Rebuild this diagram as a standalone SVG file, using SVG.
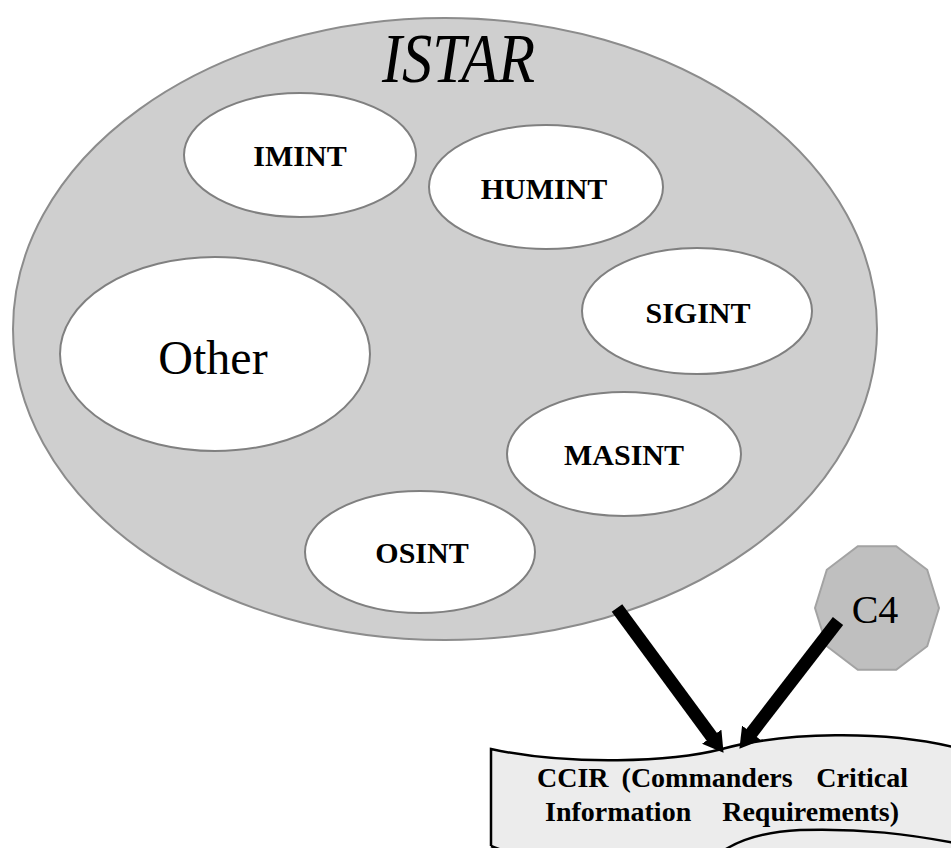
<svg xmlns="http://www.w3.org/2000/svg" width="951" height="848" viewBox="0 0 951 848">
  <defs>
    <style>
      .serif { font-family: "Liberation Serif", "Times New Roman", serif; fill: #000; }
      .disc { fill: #fff; stroke: #808080; stroke-width: 2; }
      .lbl { font-size: 30px; font-weight: bold; text-anchor: middle; }
      .ccir { font-size: 28px; font-weight: bold; }
      .link { stroke: #000; stroke-width: 13; fill: none; stroke-linecap: butt; }
    </style>
    <marker id="head" markerUnits="userSpaceOnUse" viewBox="0 0 20 24" markerWidth="20" markerHeight="24" refX="1" refY="12" orient="auto">
      <path d="M0,0 L20,12 L0,24 Z" fill="#000"/>
    </marker>
  </defs>

  <!-- ISTAR container -->
  <g id="istar">
    <ellipse cx="445" cy="329" rx="432" ry="311" fill="#cfcfcf" stroke="#8c8c8c" stroke-width="2"/>
    <text class="serif" x="382" y="82" font-size="70" font-style="italic" textLength="153" lengthAdjust="spacingAndGlyphs">ISTAR</text>
  </g>

  <g id="imint">
    <ellipse class="disc" cx="300" cy="155" rx="116" ry="62"/>
    <text class="serif lbl" x="300" y="166">IMINT</text>
  </g>

  <g id="humint">
    <ellipse class="disc" cx="546" cy="187" rx="117" ry="62"/>
    <text class="serif lbl" x="544" y="199">HUMINT</text>
  </g>

  <g id="sigint">
    <ellipse class="disc" cx="697" cy="311" rx="115" ry="63"/>
    <text class="serif lbl" x="698" y="323">SIGINT</text>
  </g>

  <g id="other">
    <ellipse class="disc" cx="215" cy="354" rx="155" ry="97"/>
    <text class="serif" x="213" y="374" font-size="48" text-anchor="middle">Other</text>
  </g>

  <g id="masint">
    <ellipse class="disc" cx="624" cy="454" rx="117" ry="62"/>
    <text class="serif lbl" x="624" y="465">MASINT</text>
  </g>

  <g id="osint">
    <ellipse class="disc" cx="420" cy="552" rx="115" ry="61"/>
    <text class="serif lbl" x="422" y="563">OSINT</text>
  </g>

  <!-- C4 decagon -->
  <g id="c4">
    <polygon points="939,608 927.2,569.8 896.2,546.2 857.8,546.2 826.8,569.8 815,608 826.8,646.2 857.8,669.8 896.2,669.8 927.2,646.2" fill="#bfbfbf" stroke="#a3a3a3" stroke-width="2"/>
    <text class="serif" x="875" y="623" font-size="40" text-anchor="middle">C4</text>
  </g>

  <!-- CCIR wave banner -->
  <g id="ccir">
    <path d="M491,749 C570,766 672,762 722,749 C780,733 885,728 965,750 L965,860 L491,860 Z" fill="#ececec" stroke="none"/>
    <path d="M491,846 L491,749 C570,766 672,762 722,749 C780,733 885,728 965,750" fill="none" stroke="#000" stroke-width="2.5"/>
    <path d="M491,846 C500,850 510,852 520,856" fill="none" stroke="#000" stroke-width="2.5"/>
    <path d="M712,860 C730,842 760,832 800,830 C860,828 910,834 965,845" fill="none" stroke="#000" stroke-width="2.5"/>
    <text class="serif ccir" x="537" y="787" word-spacing="6">CCIR (Commanders</text>
    <text class="serif ccir" x="908" y="787" text-anchor="end">Critical</text>
    <text class="serif ccir" x="545" y="821">Information</text>
    <text class="serif ccir" x="899" y="821" text-anchor="end">Requirements)</text>
  </g>

  <!-- connectors -->
  <g id="connectors">
    <line class="link" x1="617" y1="608" x2="712.3" y2="737.5" marker-end="url(#head)"/>
    <line class="link" x1="838" y1="621" x2="751" y2="733.7" marker-end="url(#head)"/>
  </g>
</svg>
